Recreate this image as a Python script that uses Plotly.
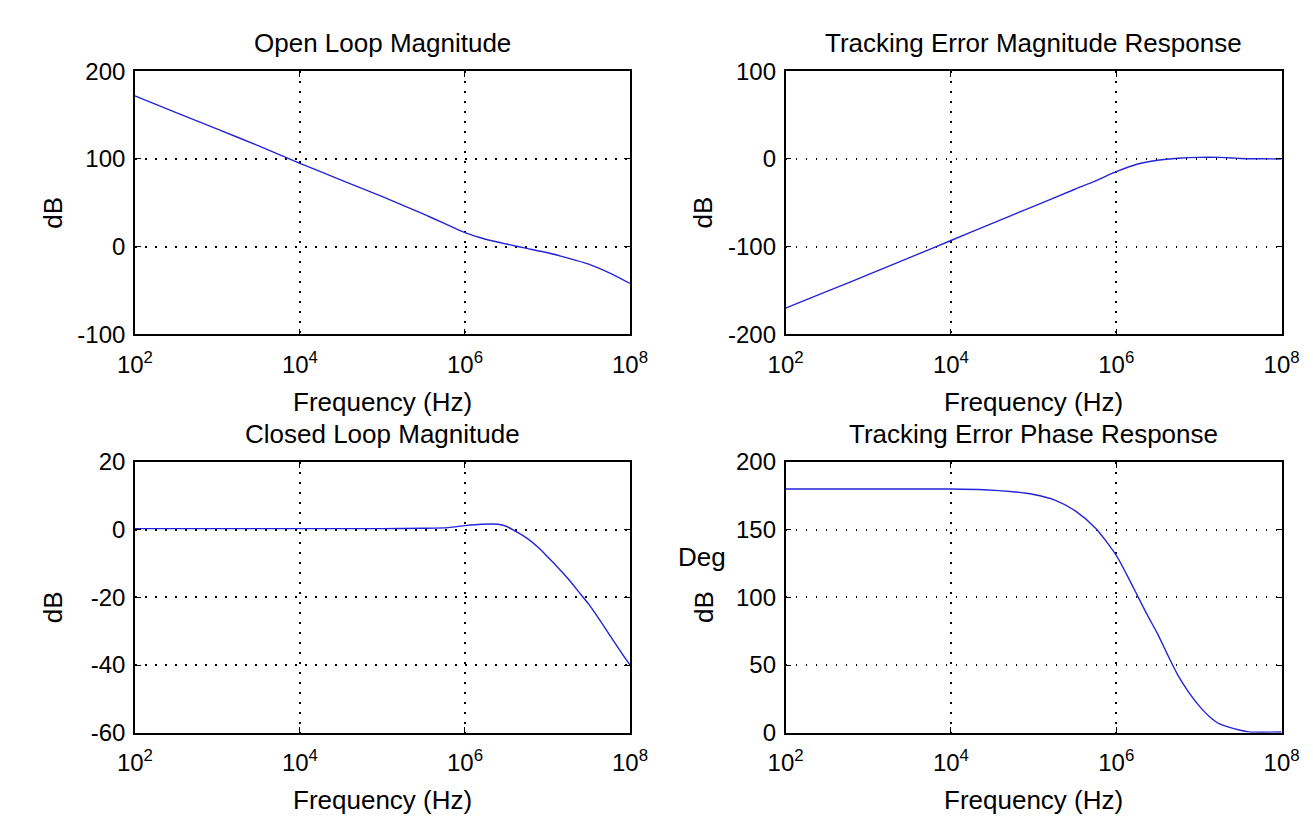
import plotly.graph_objects as go

# ---------------- data ----------------
# frequencies are given as log10(Hz) exponents
ol_exp = [2, 2.5, 3, 3.5, 4, 4.5, 5, 5.5, 5.75, 6, 6.25, 6.5, 6.75, 7, 7.25, 7.5, 7.75, 8]
ol_db = [172, 153, 134, 115, 95, 76, 57, 37, 26.5, 16, 8.5, 3, -2, -7, -13, -20, -30, -42]

te_exp = [2, 2.5, 3, 3.5, 4, 4.5, 5, 5.5, 5.75, 6, 6.25, 6.5, 6.75, 7, 7.25, 7.4, 7.5, 7.75, 8]
te_db = [-170, -151, -132, -112.5, -93, -73.5, -54, -34.5, -25, -14.5, -6, -1.5, 0.8, 1.8, 1.8, 1.2, 0.6, 0.2, 0]

cl_exp = [2, 3, 4, 5, 5.5, 5.8, 6, 6.2, 6.4, 6.5, 6.6, 6.75, 6.9, 7, 7.1, 7.25, 7.4, 7.5, 7.6, 7.75, 7.9, 8]
cl_db = [0.3, 0.3, 0.3, 0.3, 0.4, 0.6, 1.2, 1.6, 1.6, 1.0, -0.3, -2.5, -5.5, -8, -10.5, -14.5, -19, -22, -25.5, -31, -36.5, -40]

ph_exp = [2, 3, 4, 4.4, 4.75, 5, 5.25, 5.5, 5.75, 6, 6.125, 6.25, 6.375, 6.5, 6.625, 6.75, 6.875, 7, 7.125, 7.25, 7.5, 7.6, 8]
ph_deg = [180, 180, 180, 179.5, 178, 176, 172, 164, 151, 131, 117, 102, 87, 73, 57, 42, 30, 20, 12, 6.5, 1.8, 0.6, 0.5]

x_tick_vals = [1e2, 1e4, 1e6, 1e8]
x_tick_text = ["10<sup>2</sup>", "10<sup>4</sup>", "10<sup>6</sup>", "10<sup>8</sup>"]

y_tick_vals = [[-100, 0, 100, 200], [-200, -100, 0, 100], [-60, -40, -20, 0, 20], [0, 50, 100, 150, 200]]
y_tick_text = [["-100", "0", "100", "200"], ["-200", "-100", "0", "100"],
               ["-60", "-40", "-20", "0", "20"], ["0", "50", "100", "150", "200"]]

titles = ["Open Loop Magnitude", "Tracking Error Magnitude Response",
          "Closed Loop Magnitude", "Tracking Error Phase Response"]
x_label = "Frequency (Hz)"
y_label = "dB"
extra_label = "Deg"

# ---------------- figure ----------------
FONT = "Liberation Sans, Arial, Helvetica, sans-serif"
FS = 26
TFS = 24
LINE = "#2424d8"

series = [(ol_exp, ol_db), (te_exp, te_db), (cl_exp, cl_db), (ph_exp, ph_deg)]
yranges = [[-100, 200], [-200, 100], [-60, 20], [0, 200]]

W, H = 1313, 817
xdoms = [[112 / W, 621 / W], [781 / W, 1291 / W]]
ydoms = [[1 - 323 / H, 1 - 51 / H], [1 - 735 / H, 1 - 455 / H]]

fig = go.Figure()
annotations = []
for i, (ex, vals) in enumerate(series):
    r, c = divmod(i, 2)
    n = "" if i == 0 else str(i + 1)
    fig.add_trace(go.Scatter(
        x=[10 ** e for e in ex], y=vals, mode="lines",
        line=dict(color=LINE, width=1.4, shape="spline", smoothing=0.7),
        xaxis="x" + n, yaxis="y" + n, showlegend=False, hoverinfo="skip"))
    axis_common = dict(
        showline=True, linecolor="black", linewidth=1.5, mirror="ticks",
        ticks="inside", ticklen=6, tickcolor="black", tickwidth=1.2,
        showgrid=True, gridcolor="black", gridwidth=1.7, griddash="1.7px,8.3px",
        zeroline=False, tickfont=dict(family=FONT, size=TFS, color="black"),
    )
    fig.update_layout(**{
        "xaxis" + n: dict(
            axis_common, type="log", range=[2, 8], domain=xdoms[c],
            anchor="y" + n, tickvals=x_tick_vals, ticktext=x_tick_text,
            ticklabelstandoff=8),
        "yaxis" + n: dict(
            axis_common, range=yranges[i], domain=ydoms[r],
            tickvals=y_tick_vals[i], ticktext=y_tick_text[i],
            anchor="x" + n, ticklabelstandoff=3),
    })
    xc = (xdoms[c][0] + xdoms[c][1]) / 2
    top_px = 51 if r == 0 else 455
    bot_px = 323 if r == 0 else 735
    annotations.append(dict(text=titles[i], x=xc, y=1 - (top_px - 29) / H,
                            xref="paper", yref="paper", showarrow=False,
                            xanchor="center", yanchor="middle",
                            font=dict(family=FONT, size=FS, color="black")))
    annotations.append(dict(text=x_label, x=xc, y=1 - (bot_px + 70) / H,
                            xref="paper", yref="paper", showarrow=False,
                            xanchor="center", yanchor="middle",
                            font=dict(family=FONT, size=FS, color="black")))
    ylab_x = 28 if c == 0 else 697
    annotations.append(dict(text=y_label, x=ylab_x / W, y=1 - ((top_px + bot_px) / 2 + 10) / H,
                            xref="paper", yref="paper", showarrow=False,
                            xanchor="center", yanchor="middle", textangle=-90,
                            font=dict(family=FONT, size=FS, color="black")))

annotations.append(dict(text=extra_label, x=695 / W, y=1 - 553 / H,
                        xref="paper", yref="paper", showarrow=False,
                        xanchor="center", yanchor="middle",
                        font=dict(family="Liberation Sans, Arial, sans-serif", size=26, color="black")))

fig.update_layout(
    width=W, height=H, margin=dict(l=0, r=0, t=0, b=0),
    paper_bgcolor="white", plot_bgcolor="white",
    annotations=annotations, showlegend=False,
)

fig.write_html("out.html")
